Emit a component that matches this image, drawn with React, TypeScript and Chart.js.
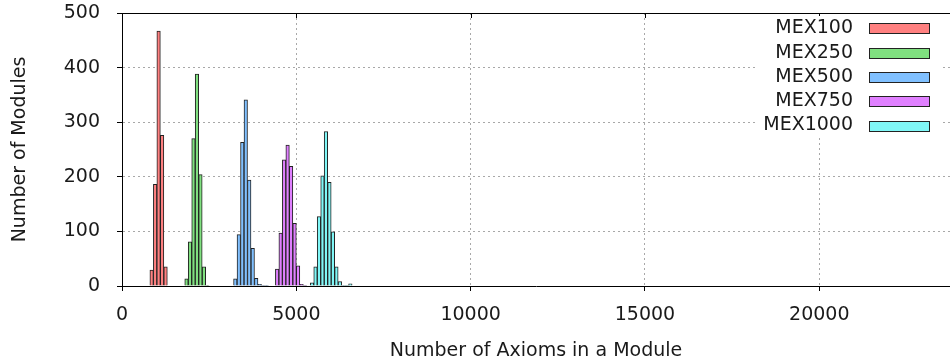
import React, { useEffect, useRef } from "react";
import { Chart, registerables } from "chart.js";

Chart.register(...registerables);

const seriesLabels = ["MEX100", "MEX250", "MEX500", "MEX750", "MEX1000"];

const mex100Bins = [850, 950, 1050, 1150, 1250];
const mex100Counts = [29, 186, 467, 276, 35];

const mex250Bins = [1850, 1950, 2050, 2150, 2250, 2350, 2450];
const mex250Counts = [13, 81, 270, 388, 204, 35, 1];

const mex500Bins = [3250, 3350, 3450, 3550, 3650, 3750, 3850, 3950, 4050, 4150];
const mex500Counts = [13, 94, 263, 341, 194, 69, 14, 3, 1, 1];

const mex750Bins = [4450, 4550, 4650, 4750, 4850, 4950, 5050, 5150, 5250];
const mex750Counts = [31, 97, 231, 258, 219, 115, 37, 3, 1];

const mex1000Bins = [5450, 5550, 5650, 5750, 5850, 5950, 6050, 6150, 6250, 6350, 6450, 6550];
const mex1000Counts = [6, 35, 127, 202, 283, 190, 99, 35, 8, 1, 1, 4];

const xTicks = [0, 5000, 10000, 15000, 20000];
const yTicks = [0, 100, 200, 300, 400, 500];

const fillColors = ["#ff8080", "#80e080", "#80c0ff", "#e080ff", "#80f7f7"];

const FONT = '"DejaVu Sans", sans-serif';
const TEXT = "#1a1a1a";

const frameLegendPlugin = {
  id: "frameLegend",
  afterDraw(chart: any) {
    const { ctx, chartArea } = chart;
    const xs = chart.scales.x;
    ctx.save();
    // top border with mirrored ticks
    ctx.strokeStyle = "#000";
    ctx.lineWidth = 1;
    ctx.beginPath();
    ctx.moveTo(chartArea.left, Math.round(chartArea.top) + 0.5);
    ctx.lineTo(chartArea.right, Math.round(chartArea.top) + 0.5);
    xTicks.forEach((v) => {
      const px = Math.round(xs.getPixelForValue(v)) + 0.5;
      ctx.moveTo(px, chartArea.top);
      ctx.lineTo(px, chartArea.top + 5);
    });
    ctx.stroke();

    // legend box (opaque)
    const right = chartArea.right;
    ctx.fillStyle = "#fff";
    ctx.fillRect(right - 193, chartArea.top + 3, 186, 122);
    ctx.font = `19px ${FONT}`;
    ctx.textAlign = "right";
    ctx.textBaseline = "middle";
    chart.data.datasets.forEach((ds: any, i: number) => {
      const y = chartArea.top + 15.3 + i * 24.3;
      ctx.fillStyle = TEXT;
      ctx.fillText(ds.label, right - 97, y);
      ctx.fillStyle = ds.backgroundColor;
      const ry = Math.round(y - 5) + 0.5;
      ctx.fillRect(right - 80.5, ry, 60, 10);
      ctx.strokeStyle = "#222";
      ctx.strokeRect(right - 80.5, ry, 60, 10);
    });
    ctx.restore();
  },
};

export default function App() {
  const canvasRef = useRef<HTMLCanvasElement | null>(null);

  useEffect(() => {
    const canvas = canvasRef.current;
    if (!canvas) return;
    const bins = [mex100Bins, mex250Bins, mex500Bins, mex750Bins, mex1000Bins];
    const counts = [mex100Counts, mex250Counts, mex500Counts, mex750Counts, mex1000Counts];
    const chart = new Chart(canvas, {
      type: "bar",
      data: {
        datasets: seriesLabels.map((label, i) => ({
          label,
          data: bins[i].map((x, j) => ({ x, y: counts[i][j] })),
          backgroundColor: fillColors[i],
          borderColor: "#222",
          borderWidth: 1,
          grouped: false,
          barPercentage: 1,
          categoryPercentage: 1,
        })),
      },
      options: {
        responsive: false,
        animation: false,
        devicePixelRatio: 1,
        layout: { padding: { top: 13, right: 0, left: 0, bottom: 0 } },
        plugins: {
          legend: { display: false },
          tooltip: { enabled: false },
        },
        scales: {
          x: {
            type: "linear",
            offset: false,
            min: 0,
            max: 23750,
            afterBuildTicks: (s: any) => {
              s.ticks = xTicks.map((v) => ({ value: v }));
            },
            afterFit: (s: any) => {
              s.height = 76;
              s.paddingLeft = 0;
              s.paddingRight = 0;
            },
            ticks: {
              font: { family: FONT, size: 19 },
              color: TEXT,
              padding: 13,
              maxRotation: 0,
              autoSkip: false,
              callback: (v: any) => String(v),
            },
            grid: {
              offset: false,
              color: "#a8a8a8",
              lineWidth: 1,
              tickLength: 5,
              tickColor: "#000",
            },
            border: { display: true, color: "#000", width: 1, dash: [2, 3] },
            title: {
              display: true,
              text: "Number of Axioms in a Module",
              font: { family: FONT, size: 19 },
              color: TEXT,
              padding: { top: 0, bottom: 0 },
            },
          },
          y: {
            type: "linear",
            min: 0,
            max: 500,
            afterBuildTicks: (s: any) => {
              s.ticks = yTicks.map((v) => ({ value: v }));
            },
            afterFit: (s: any) => {
              s.width = 122;
              s.paddingTop = 0;
              s.paddingBottom = 0;
            },
            ticks: {
              font: { family: FONT, size: 19 },
              color: TEXT,
              padding: 17,
              callback: (v: any) => String(v),
            },
            grid: {
              color: "#a8a8a8",
              lineWidth: 1,
              tickLength: 5,
              tickColor: "#000",
            },
            border: { display: true, color: "#000", width: 1, dash: [2, 3] },
            title: {
              display: true,
              text: "Number of Modules",
              font: { family: FONT, size: 19 },
              color: TEXT,
              padding: { top: 9, bottom: 0 },
            },
          },
        },
      },
      plugins: [frameLegendPlugin],
    } as any);
    return () => chart.destroy();
  }, []);

  return (
    <div style={{ position: "fixed", left: 0, top: 0, width: 950, height: 362, background: "#fff", overflow: "hidden" }}>
      <canvas ref={canvasRef} width={950} height={362} style={{ display: "block", width: 950, height: 362 }} />
    </div>
  );
}
